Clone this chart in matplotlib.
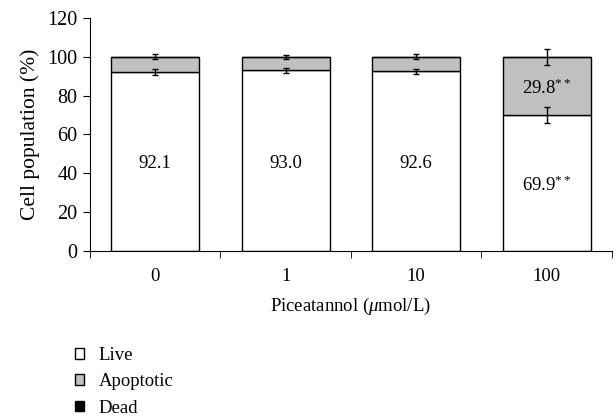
import numpy as np
import matplotlib.pyplot as plt
from matplotlib.patches import Patch

plt.rcParams['font.family'] = ['Liberation Serif', 'DejaVu Serif']
plt.rcParams['mathtext.fontset'] = 'custom'
plt.rcParams['mathtext.rm'] = 'Liberation Serif'
plt.rcParams['mathtext.it'] = 'Liberation Serif:italic'

doses = ['0', '1', '10', '100']
live = [92.1, 93.0, 92.6, 69.9]
apoptotic = [7.6, 6.8, 7.1, 29.8]
dead = [0.3, 0.2, 0.3, 0.3]
live_err = [1.5, 1.2, 1.3, 4.0]
top_err = [1.3, 1.0, 1.2, 4.0]
live_labels = ['92.1', '93.0', '92.6', '69.9$^{**}$']
apop_labels = ['', '', '', '29.8$^{**}$']

fs = 13.5
fig = plt.figure(figsize=(6.16, 4.18), dpi=100)
ax = fig.add_axes([0.146, 0.3995, 0.8475, 0.5575])

x = np.arange(len(doses))
w = 0.675
live = np.array(live)
apoptotic = np.array(apoptotic)
dead = np.array(dead)
ax.bar(x, live, w, color='white', edgecolor='black', linewidth=1.0, zorder=2)
ax.bar(x, apoptotic, w, bottom=live, color='#c0c0c0', edgecolor='black', linewidth=1.0, zorder=2)
ax.bar(x, dead, w, bottom=live + apoptotic, color='black', edgecolor='black', linewidth=1.0, zorder=2)

ax.errorbar(x, live, yerr=live_err, fmt='none', ecolor='black', elinewidth=1.0, capsize=2, capthick=1.0, zorder=3)
ax.errorbar(x, live + apoptotic + dead, yerr=top_err, fmt='none', ecolor='black', elinewidth=1.0, capsize=2, capthick=1.0, zorder=3)

for i in range(len(doses)):
    if i == 3:
        ax.text(x[i], 34, live_labels[i], ha='center', va='center', fontsize=fs, zorder=4)
        ax.text(x[i], 84, apop_labels[i], ha='center', va='center', fontsize=fs, zorder=4)
    else:
        ax.text(x[i], 45, live_labels[i], ha='center', va='center', fontsize=fs, zorder=4)

ax.set_xlim(-0.5, 3.5)
ax.set_ylim(0, 120)
ax.set_yticks(range(0, 121, 20))
ax.set_xticks(x)
ax.set_xticklabels(doses)
ax.set_xticks(np.arange(-0.5, 4, 1), minor=True)
ax.tick_params(axis='x', which='major', length=0, pad=12, labelsize=fs)
ax.tick_params(axis='x', which='minor', length=5, direction='out')
ax.tick_params(axis='y', length=5, direction='out', labelsize=fs + 1, pad=4)
ax.spines['top'].set_visible(False)
ax.spines['right'].set_visible(False)
ax.set_ylabel('Cell population (%)', fontsize=15.5, labelpad=5)
ax.set_xlabel(r'Piceatannol ($\mathit{\mu}$mol/L)', fontsize=fs, labelpad=8)

handles = [Patch(facecolor='white', edgecolor='black', label='Live'),
           Patch(facecolor='#c0c0c0', edgecolor='black', label='Apoptotic'),
           Patch(facecolor='black', edgecolor='black', label='Dead')]
fig.legend(handles=handles, loc='upper left', bbox_to_anchor=(0.121, 0.170), frameon=False,
           fontsize=fs, handlelength=0.5, handleheight=0.5, handletextpad=0.8, labelspacing=0.5,
           borderaxespad=0, borderpad=0)

fig.savefig('out.png', dpi=100)
